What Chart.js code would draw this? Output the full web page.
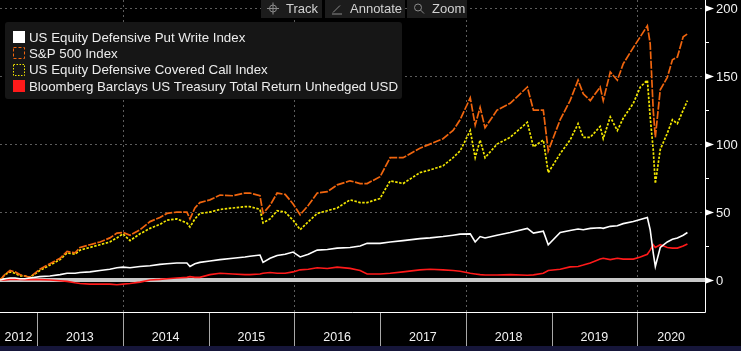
<!DOCTYPE html>
<html>
<head>
<meta charset="utf-8">
<script src="https://cdn.jsdelivr.net/npm/chart.js@4.4.0/dist/chart.umd.min.js"></script>
<style>
html, body { margin: 0; padding: 0; background: #000; }
#wrap { position: relative; width: 741px; height: 351px; }
</style>
</head>
<body>
<div id="wrap"><canvas id="chart" width="741" height="351"></canvas></div>
<script>
// sample dates
var dates = [
    "2012-07-27", "2012-08-17", "2012-09-08", "2012-09-29", "2012-10-20", "2012-11-10", "2012-12-01",
    "2013-01-13", "2013-02-25", "2013-04-09", "2013-05-09", "2013-06-12", "2013-07-03", "2013-08-14",
    "2013-09-26", "2013-11-07", "2013-12-07", "2014-01-02", "2014-02-01", "2014-03-15", "2014-04-27",
    "2014-06-08", "2014-07-08", "2014-08-19", "2014-10-01", "2014-10-14", "2014-11-04", "2014-11-25",
    "2015-01-07", "2015-02-19", "2015-04-15", "2015-06-05", "2015-06-26", "2015-08-08", "2015-08-21",
    "2015-09-20", "2015-10-20", "2015-11-23", "2015-12-27", "2016-01-26", "2016-03-01", "2016-04-08",
    "2016-05-21", "2016-07-02", "2016-08-26", "2016-10-08", "2016-11-07", "2017-01-01", "2017-02-13",
    "2017-04-09", "2017-06-20", "2017-08-02", "2017-09-26", "2017-11-08", "2017-12-08", "2018-01-20",
    "2018-02-10", "2018-03-03", "2018-03-24", "2018-05-14", "2018-07-09", "2018-09-20", "2018-10-16",
    "2018-11-27", "2018-12-18", "2019-02-07", "2019-03-21", "2019-04-24", "2019-05-16", "2019-06-15",
    "2019-07-27", "2019-08-09", "2019-09-08", "2019-10-08", "2019-11-02", "2019-12-15", "2020-01-14",
    "2020-02-13", "2020-02-25", "2020-03-09", "2020-03-18", "2020-04-08", "2020-05-08", "2020-05-30",
    "2020-06-20", "2020-07-15", "2020-08-02"
];

// US Equity Defensive Put Write Index
var putWrite = [
    0, 1, 1.5, 1.5, 1, 1, 1.5,
    2.5, 3, 4, 5, 5, 5.5, 6,
    7, 8, 9, 9.5, 9, 10, 10.5,
    11.5, 12, 12.5, 12.5, 10, 12, 13,
    14, 15, 16, 17, 17.5, 18.4, 13,
    16, 18, 19, 20.6, 17, 19, 22,
    22.5, 23.5, 24, 25, 27, 27, 28,
    29, 30.5, 31, 32, 33, 33.8, 34,
    28, 32, 31, 33, 35, 38, 34.5,
    36, 26, 35, 36.5, 37.5, 37, 38,
    38.5, 38, 39.5, 40, 41.5, 43, 44.5,
    46, 37, 20, 10, 24, 28, 30,
    31, 33, 35
];

// S&P 500 Index
var spx = [
    0, 4, 7, 6, 4, 3, 2,
    8, 12, 16, 21, 20, 24, 26,
    28, 31, 34.5, 35, 33, 37, 43,
    46, 49, 50, 50, 45, 53, 57,
    59, 62.5, 62, 64, 64, 62, 49,
    55, 64, 63, 56, 48, 55, 64,
    65, 70, 73, 71, 71, 76, 90,
    90, 97, 100, 104, 110, 118, 134,
    114, 127, 112, 125, 130, 142, 125,
    125, 95, 118, 132, 147, 137, 132,
    142, 132, 153, 147, 159, 171, 179,
    187, 174, 125, 105, 140, 149, 162,
    164, 179, 181
];

// US Equity Defensive Covered Call Index
var coveredCall = [
    0, 4, 6, 5, 3, 3, 2,
    7, 11, 15, 20, 19, 22, 24,
    26, 28, 31, 34, 29, 34, 38,
    41, 44, 45, 42, 39, 45, 49,
    50, 52, 53, 54, 54, 52, 42,
    45, 51, 50, 44, 37, 43, 49,
    51, 53, 59, 57, 57, 60, 73,
    71, 79, 81, 84, 90, 95, 110,
    90, 103, 90, 100, 105, 116, 98,
    103, 79, 93, 103, 115, 105, 105,
    113, 104, 120, 110, 119, 130, 142,
    147, 120, 96, 71, 96, 108, 118,
    115, 125, 132
];

// Bloomberg Barclays US Treasury Total Return Unhedged USD
var treasury = [
    0, 0, 0.5, 0.5, 0.5, 0.3, 0.5,
    0.3, 0, -0.5, -1, -2, -2.5, -3,
    -3, -3, -3.5, -3, -2.5, -1.5, 0,
    0.5, 1, 1.5, 2, 2.5, 2, 2,
    4, 5, 4.5, 4, 4, 4.5, 5,
    5.5, 5, 5, 6, 7.5, 8, 9,
    8.5, 9.5, 8.6, 7, 4.5, 4.5, 5,
    6, 7.5, 8, 7.5, 7, 6.5, 5,
    4.5, 4, 3.7, 3.7, 4, 3.5, 3.8,
    5, 7, 8, 9.7, 10, 11, 12.5,
    15.5, 16, 15, 16, 15.4, 15.4, 17,
    19, 22, 26, 24, 26, 24, 23.5,
    23.5, 25, 26.5
];

var seriesNames = [
    "US Equity Defensive Put Write Index",
    "S&P 500 Index",
    "US Equity Defensive Covered Call Index",
    "Bloomberg Barclays US Treasury Total Return Unhedged USD"
];
var yearLabels = ["2012", "2013", "2014", "2015", "2016", "2017", "2018", "2019", "2020"];
var valueTicks = [0, 50, 100, 150, 200];
var minorTicks = [25, 75, 125, 175];
var gridYears = [2014, 2016, 2018, 2020];
var toolButtons = ["Track", "Annotate", "Zoom"];

// 날짜 문자열 -> 소수 연도
var toYear = function(s) {
    var p = s.split("-");
    var y = +p[0];
    var t0 = Date.UTC(y, 0, 1), t1 = Date.UTC(y + 1, 0, 1);
    return y + (Date.UTC(y, +p[1] - 1, +p[2]) - t0) / (t1 - t0);
};

var makePoints = function(vals) {
    return vals.map(function(v, i) {
        return { x: toYear(dates[i]), y: v };
    });
};

var colors = {
    putWrite: "#ffffff",
    spx: "#f0650e",
    coveredCall: "#f2e600",
    treasury: "#ff1a1a"
};

var drawIcon = function(c, kind, x, y) {
    c.save();
    c.strokeStyle = "#8a8a8a";
    c.lineWidth = 1;
    c.beginPath();
    if (kind === "Track") {
        c.arc(x, y, 3.5, 0, Math.PI * 2);
        c.moveTo(x - 6, y); c.lineTo(x + 6, y);
        c.moveTo(x, y - 6); c.lineTo(x, y + 6);
    } else if (kind === "Annotate") {
        c.moveTo(x - 4, y + 4); c.lineTo(x + 3, y - 3);
        c.moveTo(x - 5, y + 5.5); c.lineTo(x + 5, y + 5.5);
    } else {
        c.arc(x - 1, y - 1, 3.5, 0, Math.PI * 2);
        c.moveTo(x + 1.5, y + 1.5); c.lineTo(x + 5, y + 5);
    }
    c.stroke();
    c.restore();
};

var bbgPlugin = {
    id: "bbg",
    beforeDraw: function(chart) {
        var c = chart.ctx;
        c.save();
        c.fillStyle = "#000";
        c.fillRect(0, 0, chart.width, chart.height);
        c.restore();
    },
    beforeDatasetsDraw: function(chart) {
        var c = chart.ctx, a = chart.chartArea;
        var xs = chart.scales.x, ys = chart.scales.y;
        c.save();
        c.strokeStyle = "#5c5c5c";
        c.lineWidth = 1;
        c.setLineDash([2, 3]);
        valueTicks.forEach(function(v) {
            if (v === 0) return;
            var y = Math.round(ys.getPixelForValue(v)) + 0.5;
            c.beginPath(); c.moveTo(a.left, y); c.lineTo(a.right, y); c.stroke();
        });
        gridYears.forEach(function(yr) {
            var x = Math.round(xs.getPixelForValue(yr)) + 0.5;
            c.beginPath(); c.moveTo(x, a.top); c.lineTo(x, a.bottom); c.stroke();
        });
        c.setLineDash([]);
        // zero line
        c.fillStyle = "#c8c8c8";
        var y0 = Math.round(ys.getPixelForValue(0));
        c.fillRect(a.left, y0 - 2, a.right - a.left, 4);
        c.restore();
    },
    afterDatasetsDraw: function(chart) {
        var c = chart.ctx, a = chart.chartArea;
        var xs = chart.scales.x, ys = chart.scales.y;
        c.save();

        // axis frame
        c.strokeStyle = "#ffffff";
        c.lineWidth = 1;
        c.beginPath();
        c.moveTo(a.right + 0.5, 0); c.lineTo(a.right + 0.5, a.bottom + 0.5);
        c.lineTo(0, a.bottom + 0.5);
        c.stroke();

        // minor ticks
        minorTicks.forEach(function(v) {
            var y = Math.round(ys.getPixelForValue(v)) + 0.5;
            c.beginPath(); c.moveTo(a.right, y); c.lineTo(a.right + 4, y); c.stroke();
        });

        // y ticks + labels
        c.font = "13px 'Liberation Sans', Arial, sans-serif";
        c.textBaseline = "middle";
        c.textAlign = "left";
        valueTicks.forEach(function(v) {
            var y = Math.round(ys.getPixelForValue(v)) + 0.5;
            c.fillStyle = "#ffffff";
            c.beginPath();
            c.moveTo(a.right + 1, y - 3);
            c.lineTo(a.right + 9, y);
            c.lineTo(a.right + 1, y + 3);
            c.closePath();
            c.fill();
            c.fillStyle = "#f2f2f2";
            c.fillText(String(v), a.right + 11, y + 1);
        });

        // year separators and labels
        var stripTop = chart.height - 5;
        c.strokeStyle = "#a8a8a8";
        var bounds = yearLabels.map(function(s) { return xs.getPixelForValue(+s); });
        bounds.forEach(function(x, i) {
            if (i === 0 || x < a.left || x > a.right) return;
            var px = Math.round(x) + 0.5;
            c.beginPath(); c.moveTo(px, a.bottom + 1); c.lineTo(px, stripTop); c.stroke();
        });
        c.font = "12.5px 'Liberation Sans', Arial, sans-serif";
        c.textAlign = "center";
        c.fillStyle = "#f2f2f2";
        yearLabels.forEach(function(s, i) {
            var l = Math.max(bounds[i], a.left);
            var r = Math.min(xs.getPixelForValue(+s + 1), a.right);
            var cx = (l + r) / 2;
            var w = c.measureText(s).width;
            if (cx - w / 2 < 2) cx = 2 + w / 2;
            c.fillText(s, cx, a.bottom + 26);
        });

        // bottom strip
        c.fillStyle = "#16163a";
        c.fillRect(0, stripTop, chart.width, 5);

        // legend box
        c.fillStyle = "#161616";
        c.beginPath();
        if (c.roundRect) c.roundRect(5, 22, 397, 77, 3); else c.rect(5, 22, 397, 77);
        c.fill();
        c.font = "13.3px 'Liberation Sans', Arial, sans-serif";
        c.textAlign = "left";
        c.textBaseline = "middle";
        var legendColors = [colors.putWrite, colors.spx, colors.coveredCall, colors.treasury];
        seriesNames.forEach(function(name, i) {
            var cy = 37 + i * 16.3;
            var bx = 13, by = Math.round(cy - 6);
            if (i === 0 || i === 3) {
                c.fillStyle = legendColors[i];
                c.fillRect(bx, by, 12, 12);
            } else {
                c.strokeStyle = legendColors[i];
                c.lineWidth = 1;
                c.setLineDash(i === 1 ? [3, 2] : [1.5, 1.5]);
                c.strokeRect(bx + 0.5, by + 0.5, 11, 11);
                c.setLineDash([]);
            }
            c.fillStyle = "#ececec";
            c.fillText(name, 29, cy + 1);
        });

        // toolbar
        var btnX = [261, 325, 407];
        var btnW = [61, 80, 60];
        c.font = "13px 'Liberation Sans', Arial, sans-serif";
        toolButtons.forEach(function(label, i) {
            c.fillStyle = "#1c1c1c";
            c.fillRect(btnX[i], 0, btnW[i], 18);
            drawIcon(c, label, btnX[i] + 12, 8.5);
            c.fillStyle = "#d2d2d2";
            c.fillText(label, btnX[i] + 25, 9);
        });

        c.restore();
    }
};

var ctx = document.getElementById("chart").getContext("2d");
var myChart = new Chart(ctx, {
    type: "line",
    data: {
        datasets: [{
            label: seriesNames[0],
            data: makePoints(putWrite),
            borderColor: colors.putWrite,
            borderWidth: 1.6
        }, {
            label: seriesNames[1],
            data: makePoints(spx),
            borderColor: colors.spx,
            borderWidth: 1.7,
            borderDash: [8, 1.5]
        }, {
            label: seriesNames[2],
            data: makePoints(coveredCall),
            borderColor: colors.coveredCall,
            borderWidth: 1.7,
            borderDash: [2.5, 1.5]
        }, {
            label: seriesNames[3],
            data: makePoints(treasury),
            borderColor: colors.treasury,
            borderWidth: 1.6
        }]
    },
    options: {
        responsive: false,
        animation: false,
        devicePixelRatio: 1,
        layout: { padding: { left: 0, top: 0, right: 36, bottom: 39 } },
        elements: { point: { radius: 0 }, line: { tension: 0 } },
        plugins: { legend: { display: false }, tooltip: { enabled: false } },
        scales: {
            x: { type: "linear", display: false, min: toYear(dates[0]), max: toYear("2020-10-16") },
            y: { type: "linear", display: false, min: -23.5, max: 206 }
        }
    },
    plugins: [bbgPlugin]
});
</script>
</body>
</html>
